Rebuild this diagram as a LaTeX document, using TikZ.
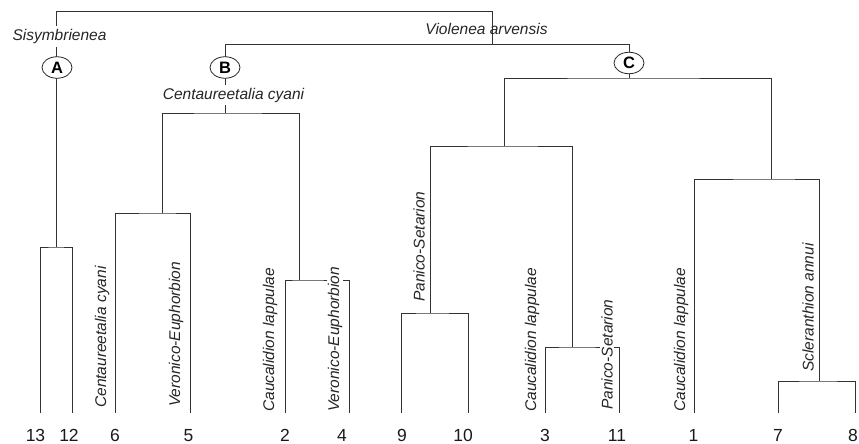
\documentclass[tikz,border=0pt]{standalone}
\usepackage{fontspec}
\setmainfont{Liberation Sans}
\usetikzlibrary{shapes.geometric}
\begin{document}
\begin{tikzpicture}[x=1pt,y=-1pt,
  tree/.style={line width=0.9pt, draw=black!80},
  lab/.style={font=\fontsize{15.5}{18}\selectfont\itshape, inner sep=1pt, text=black!85},
  rlab/.style={lab, rotate=90, anchor=west, fill=white},
  num/.style={font=\fontsize{17.5}{20}\selectfont, inner sep=0pt, text=black!90},
  grp/.style={ellipse, draw=black!85, line width=0.8pt, fill=white, minimum width=30pt, minimum height=21.5pt, inner sep=0pt, font=\fontsize{16.5}{18}\selectfont\bfseries}]
\useasboundingbox (0,0) rectangle (859,444);
% leaves
\foreach \n/\x in {13/40,12/72,6/115,5/190,2/285,4/349,9/401,10/468,3/545,11/619,1/694,7/778,8/855}
  \coordinate (l\n) at (\x,413);
% merge points
\coordinate (m1312) at (56,247);
\coordinate (m65) at (162,213);
\coordinate (m24) at (299,280);
\coordinate (mB) at (225,113);
\coordinate (m910) at (430,313);
\coordinate (m311) at (572,347);
\coordinate (mL) at (504,146);
\coordinate (m78) at (819.5,381);
\coordinate (mR) at (771,179);
\coordinate (mC) at (629,78);
\coordinate (bc) at (492,44.5);
\coordinate (root) at (492,11);
% tree lines
\draw[tree] (l13) |- (m1312) -| (l12);
\draw[tree] (l6) |- (m65) -| (l5);
\draw[tree] (l2) |- (m24) -| (l4);
\draw[tree] (m65) |- (mB) -| (m24);
\draw[tree] (l9) |- (m910) -| (l10);
\draw[tree] (l3) |- (m311) -| (l11);
\draw[tree] (m910) |- (mL) -| (m311);
\draw[tree] (l7) |- (m78) -| (l8);
\draw[tree] (l1) |- (mR) -| (m78);
\draw[tree] (mL) |- (mC) -| (mR);
\draw[tree] (mB) |- (bc) -| (mC);
\draw[tree] (m1312) |- (root) -- (bc);
% group labels
\node[lab, fill=white, inner ysep=3pt] (sis) at (59.5,36.5) {Sisymbrienea};
\node[lab] (vio) at (486.5,29) {Violenea arvensis};
\node[lab, fill=white, inner ysep=2.5pt] (cen) at (233.5,95) {Centaureetalia cyani};
\node[grp] (A) at (57,67.5) {A};
\node[grp] (B) at (225,67.5) {B};
\node[grp] (C) at (629,63) {C};
% rotated labels
\node[rlab] (r1) at (102,409) {Centaureetalia cyani};
\node[rlab] (r2) at (176,408) {Veronico-Euphorbion};
\node[rlab] (r3) at (270,413) {Caucalidion lappulae};
\node[rlab] (r4) at (335,413) {Veronico-Euphorbion};
\node[rlab] (r5) at (419,303) {Panico-Setarion};
\node[rlab] (r6) at (532,413) {Caucalidion lappulae};
\node[rlab] (r7) at (607,411) {Panico-Setarion};
\node[rlab] (r8) at (681,413) {Caucalidion lappulae};
\node[rlab] (r9) at (808,373) {Scleranthion annui};
% leaf numbers
\foreach \n/\x in {13/35.5,12/69,6/115,5/188.5,2/285,4/342,9/402,10/463,3/545,11/617,1/693.5,7/778,8/853}
  \node[num] (n\n) at (\x,435.5) {\n};
\end{tikzpicture}
\end{document}
